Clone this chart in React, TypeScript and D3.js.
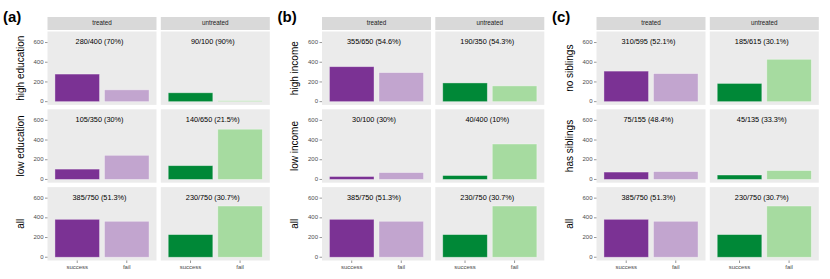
import React from "react";
import * as d3 from "d3";

const panelTags = ["(a)", "(b)", "(c)"];
const groups = ["treated", "untreated"];
const outcomes = ["success", "fail"];
const rowLabels = [
  ["high education", "low education", "all"],
  ["high income", "low income", "all"],
  ["no siblings", "has siblings", "all"],
];
const successTreated = [
  [280, 105, 385],
  [355, 30, 385],
  [310, 75, 385],
];
const totalTreated = [
  [400, 350, 750],
  [650, 100, 750],
  [595, 155, 750],
];
const successUntreated = [
  [90, 140, 230],
  [190, 40, 230],
  [185, 45, 230],
];
const totalUntreated = [
  [100, 650, 750],
  [350, 400, 750],
  [615, 135, 750],
];
const yTicks = [0, 200, 400, 600];

const colors = {
  treated: ["#7B3294", "#C2A5CF"],
  untreated: ["#008837", "#A6DBA0"],
};

const FONT = "'Liberation Sans', Arial, Helvetica, sans-serif";

function fmtPct(s: number, t: number) {
  const v = Math.round((s / t) * 1000) / 10;
  return `${s}/${t} (${Number.isInteger(v) ? v.toFixed(0) : v.toFixed(1)}%)`;
}

export default function App() {
  const W = 830;
  const H = 279;
  const subW = 274.5;
  const panelW = 109;
  const panelGapX = 4.3;
  const panelH = 73.4;
  const panelGapY = 4.4;
  const top0 = 31.5;
  const left0 = 47.5;

  const els: React.ReactNode[] = [];

  panelTags.forEach((tag, i) => {
    const ox = i * subW;
    els.push(
      <text key={`tag${i}`} x={ox + 3} y={22} fontSize={15} fontWeight="bold" fontFamily={FONT} fill="#000">
        {tag}
      </text>
    );
    groups.forEach((g, j) => {
      const px = ox + left0 + j * (panelW + panelGapX);
      // strip
      els.push(
        <g key={`strip${i}${j}`}>
          <rect x={px} y={17} width={panelW} height={13} fill="#D9D9D9" />
          <text x={px + panelW / 2} y={23.5} fontSize={6.3} textAnchor="middle" dominantBaseline="middle" fill="#1A1A1A" fontFamily={FONT}>
            {g}
          </text>
        </g>
      );
      const x = d3.scaleLinear().domain([0.4, 2.6]).range([px, px + panelW]);
      rowLabels[i].forEach((rl, r) => {
        const py = top0 + r * (panelH + panelGapY);
        const y = d3.scaleLinear().domain([-33, 712]).range([py + panelH, py]);
        const s = g === "treated" ? successTreated[i][r] : successUntreated[i][r];
        const t = g === "treated" ? totalTreated[i][r] : totalUntreated[i][r];
        const vals = [s, t - s];
        els.push(
          <rect key={`bg${i}${j}${r}`} x={px} y={py} width={panelW} height={panelH} fill="#EBEBEB" />
        );
        vals.forEach((v, k) => {
          const cx = k + 1;
          els.push(
            <rect
              key={`bar${i}${j}${r}${k}`}
              x={x(cx - 0.45)}
              y={y(v)}
              width={x(cx + 0.45) - x(cx - 0.45)}
              height={Math.max(0, y(0) - y(v))}
              fill={colors[g as "treated" | "untreated"][k]}
              stroke="rgba(255,255,255,0.45)"
              strokeWidth={0.8}
            />
          );
        });
        els.push(
          <text
            key={`lab${i}${j}${r}`}
            x={x(1.45)}
            y={y(600)}
            fontSize={7.3}
            textAnchor="middle"
            dominantBaseline="middle"
            fill="#000"
            fontFamily={FONT}
          >
            {fmtPct(s, t)}
          </text>
        );
        if (j === 0) {
          yTicks.forEach((tv) => {
            els.push(
              <g key={`yt${i}${r}${tv}`}>
                <line x1={px - 2.5} x2={px} y1={y(tv)} y2={y(tv)} stroke="#333" strokeWidth={0.5} />
                <text x={px - 4} y={y(tv)} fontSize={6} textAnchor="end" dominantBaseline="middle" fill="#4D4D4D" fontFamily={FONT}>
                  {tv}
                </text>
              </g>
            );
          });
          els.push(
            <text
              key={`yl${i}${r}`}
              transform={`translate(${ox + 21},${py + panelH / 2}) rotate(-90)`}
              fontSize={10}
              textAnchor="middle"
              dominantBaseline="middle"
              fill="#000"
              fontFamily={FONT}
            >
              {rl}
            </text>
          );
        }
        if (r === rowLabels[i].length - 1) {
          outcomes.forEach((o, k) => {
            els.push(
              <g key={`xt${i}${j}${k}`}>
                <line x1={x(k + 1)} x2={x(k + 1)} y1={py + panelH} y2={py + panelH + 2.5} stroke="#333" strokeWidth={0.5} />
                <text x={x(k + 1)} y={py + panelH + 7} fontSize={6} textAnchor="middle" dominantBaseline="middle" fill="#4D4D4D" fontFamily={FONT}>
                  {o}
                </text>
              </g>
            );
          });
        }
      });
    });
  });

  return (
    <svg width={W} height={H} style={{ position: "absolute", left: 0, top: 0, background: "#fff" }}>
      <rect x={0} y={0} width={W} height={H} fill="#fff" />
      {els}
    </svg>
  );
}
